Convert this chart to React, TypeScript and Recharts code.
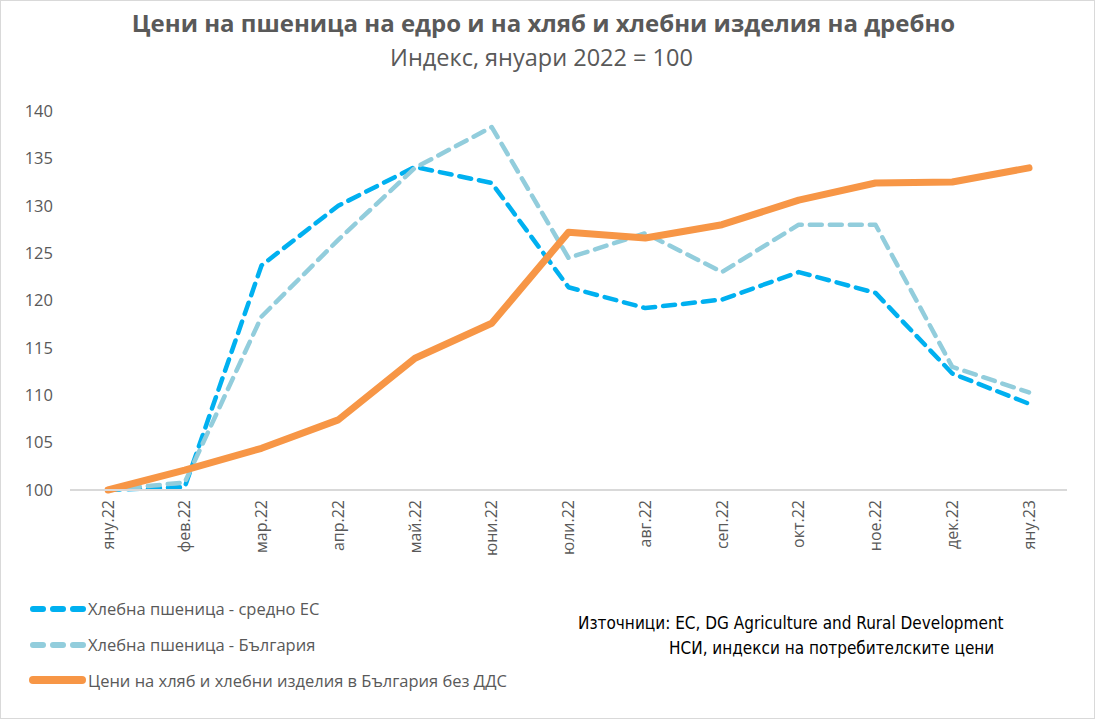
import { LineChart, Line, XAxis, YAxis } from 'recharts';

const months = ['яну.22', 'фев.22', 'мар.22', 'апр.22', 'май.22', 'юни.22', 'юли.22', 'авг.22', 'сеп.22', 'окт.22', 'ное.22', 'дек.22', 'яну.23'];
const wheatEU = [100, 100.3, 123.7, 130, 134.1, 132.4, 121.4, 119.2, 120.1, 123, 120.8, 112.3, 109.1];
const wheatBG = [100, 100.8, 118.3, 126.4, 134, 138.3, 124.5, 127.1, 123, 128, 128, 113, 110.3];
const breadBG = [100, 102.1, 104.4, 107.4, 113.9, 117.6, 127.2, 126.6, 128, 130.6, 132.4, 132.5, 134];
const yTicks = [100, 105, 110, 115, 120, 125, 130, 135, 140];

const series = [
  { key: 'eu', name: 'Хлебна пшеница - средно ЕС', color: '#00B0F0', width: 4.5, dash: '12 8' },
  { key: 'bg', name: 'Хлебна пшеница - България', color: '#92CDDC', width: 4.5, dash: '12 8' },
  { key: 'bread', name: 'Цени на хляб и хлебни изделия в България без ДДС', color: '#F79646', width: 7, dash: undefined },
];

const data = months.map((m, i) => ({ month: m, eu: wheatEU[i], bg: wheatBG[i], bread: breadBG[i] }));

const gray = '#595959';
const narrow = "'Liberation Sans Narrow', 'DejaVu Sans Condensed', 'Open Sans', sans-serif";
const ui = "'Open Sans', 'Noto Sans', sans-serif";

const MonthTick = ({ x, y, payload }: any) => (
  <text x={x} y={y} transform={`rotate(-90, ${x}, ${y})`} textAnchor="end" dy="0.35em" fill={gray} fontSize={16} fontFamily={ui}>
    {payload.value}
  </text>
);

// legend drawn by hand: sample line at 28-84, label from 87
const LegendBox = () => (
  <div style={{ position: 'absolute', left: 24, top: 590, fontFamily: ui, fontSize: 16.5, color: gray }}>
    {series.map((s) => (
      <div key={s.key} style={{ display: 'flex', alignItems: 'center', height: 35.8 }}>
        <svg width={63} height={12}>
          {s.dash ? (
            <line x1={8} y1={6} x2={60} y2={6} stroke={s.color} strokeWidth={6} strokeDasharray="10 10" strokeLinecap="round" />
          ) : (
            <line x1={8} y1={6} x2={57} y2={6} stroke={s.color} strokeWidth={8} strokeLinecap="round" />
          )}
        </svg>
        <span>{s.name}</span>
      </div>
    ))}
  </div>
);

const App = () => {
  return (
    <div style={{ position: 'relative', width: 1095, height: 719, background: '#fff', boxSizing: 'border-box', border: '1px solid #D9D9D9' }}>
      <style>{'body{margin:0}'}</style>
      <div style={{ position: 'absolute', top: 5, left: 0, width: 1085, textAlign: 'center', fontFamily: ui, fontWeight: 700, fontSize: 24, color: gray }}>
        Цени на пшеница на едро и на хляб и хлебни изделия на дребно
      </div>
      <div style={{ position: 'absolute', top: 40, left: 0, width: 1081, textAlign: 'center', fontFamily: ui, fontSize: 23.5, color: gray }}>
        Индекс, януари 2022 = 100
      </div>
      <LineChart width={1093} height={717} data={data} margin={{ top: 110, right: 27, bottom: 0, left: 0 }} style={{ position: 'absolute', top: 0, left: 0 }}>
        <XAxis dataKey="month" tick={<MonthTick />} tickLine={false} axisLine={{ stroke: '#D9D9D9', strokeWidth: 2 }} interval={0} height={228} tickMargin={4} padding={{ left: 38, right: 38 }} />
        <YAxis domain={[100, 140]} ticks={yTicks} width={69} axisLine={false} tickLine={false} tickMargin={11} tick={{ fill: gray, fontSize: 16.5, fontFamily: ui }} />
        {series.map((s) => (
          <Line key={s.key} dataKey={s.key} name={s.name} stroke={s.color} strokeWidth={s.width} strokeDasharray={s.dash} strokeLinecap="round" strokeLinejoin="round" dot={false} isAnimationActive={false} />
        ))}
      </LineChart>
      <LegendBox />
      <div style={{ position: 'absolute', left: 577, top: 610, fontFamily: narrow, fontSize: 17, color: '#000', lineHeight: '25px' }}>
        <div>Източници: EC, DG Agriculture and Rural Development</div>
        <div style={{ paddingLeft: 91 }}>НСИ, индекси на потребителските цени</div>
      </div>
    </div>
  );
};

export default App;
